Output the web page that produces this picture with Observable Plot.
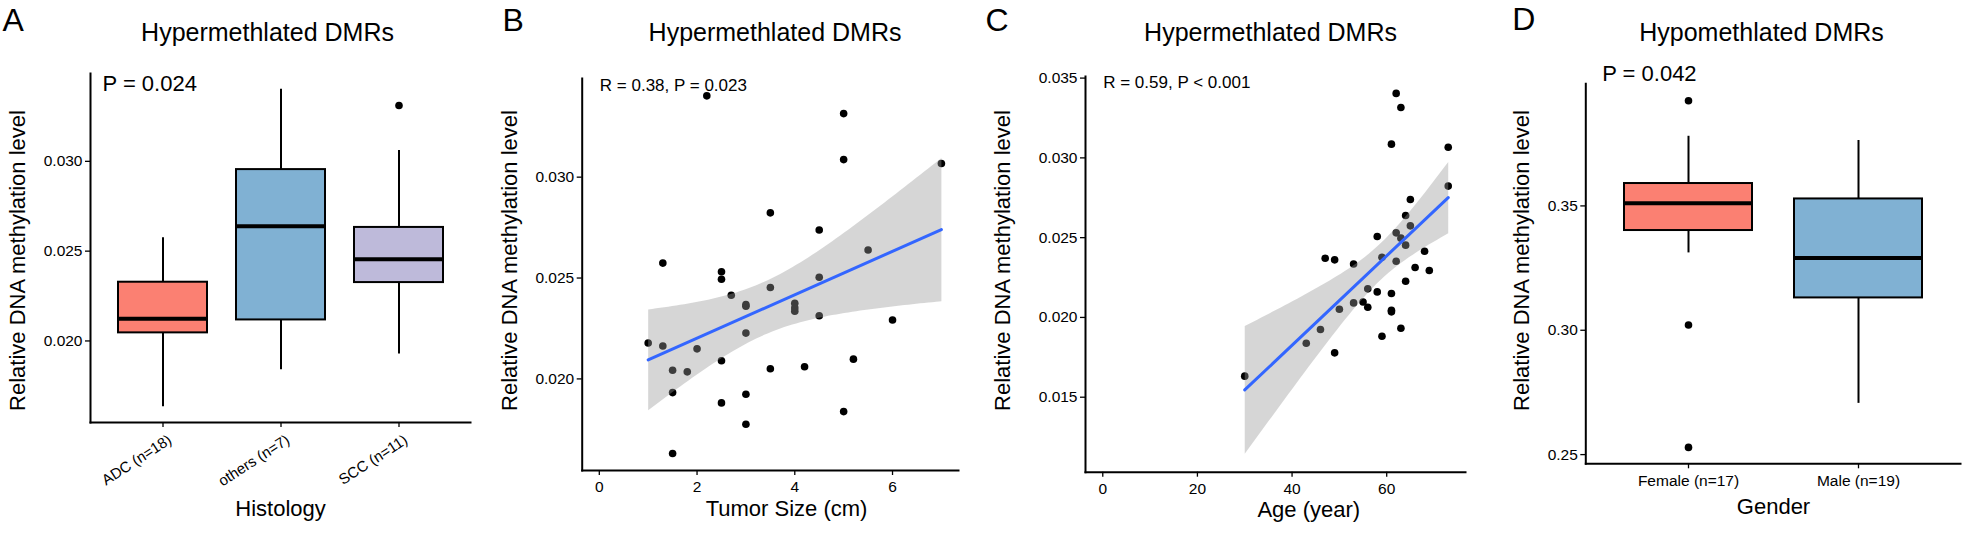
<!DOCTYPE html>
<html><head><meta charset="utf-8">
<script src="https://cdn.jsdelivr.net/npm/d3@7"></script>
<script src="https://cdn.jsdelivr.net/npm/@observablehq/plot@0.6"></script>
<style>
html,body{margin:0;padding:0;background:#fff;}
#wrap{position:relative;width:1965px;height:536px;overflow:hidden;}
#wrap svg{position:absolute;top:0;}
</style></head><body><div id="wrap"></div>
<script>
// ---------- Panel A: Histology boxplot ----------
const histCats = ["ADC (n=18)", "others (n=7)", "SCC (n=11)"];
const histLower = [0.01634, 0.01840, 0.01928];
const histQ1 = [0.02045, 0.02117, 0.02325];
const histMedian = [0.02123, 0.02639, 0.02455];
const histQ3 = [0.02327, 0.02954, 0.02632];
const histUpper = [0.02574, 0.03401, 0.03060];
const histColors = ["#FB8072", "#80B1D3", "#BEBADA"];
const histOutCat = ["SCC (n=11)"];
const histOutVal = [0.03311];
const yTicksHyper = [0.020, 0.025, 0.030];

// ---------- Panel B: Tumor size scatter ----------
const sizeX = [2.2, 5, 5, 7, 3.5, 4.5, 5.5, 1.3, 2.5, 2.5, 4.5, 3.5, 2.7, 3, 4, 4, 4.5, 6, 3, 1, 1.3, 2, 2.5, 5.2, 1.5, 1.8, 3.5, 4.2, 1.5, 3, 2.5, 5, 3, 1.5, 3, 4];
const sizeY = [0.03403, 0.03315, 0.03087, 0.03068, 0.02823, 0.02738, 0.02639, 0.02574, 0.02531, 0.02494, 0.02504, 0.02453, 0.02415, 0.02360, 0.02375, 0.02335, 0.02313, 0.02292, 0.02227, 0.02178, 0.02163, 0.02149, 0.02090, 0.02098, 0.02043, 0.02035, 0.02050, 0.02060, 0.01932, 0.01924, 0.01881, 0.01838, 0.01775, 0.01630, 0.02368, 0.02352];
const sizeTicks = [0, 2, 4, 6];

// ---------- Panel C: Age scatter ----------
const ageX = [62, 63, 61, 73, 73, 65, 64, 65, 62, 58, 63, 64, 68, 47, 49, 59, 62, 53, 66, 69, 64, 56, 58, 61, 53, 55, 56, 50, 61, 61, 46, 63, 43, 59, 49, 30];
const ageY = [0.03404, 0.03316, 0.03086, 0.03067, 0.02823, 0.02739, 0.02639, 0.02574, 0.02530, 0.02507, 0.02497, 0.02453, 0.02415, 0.02371, 0.02361, 0.02377, 0.02352, 0.02335, 0.02313, 0.02294, 0.02227, 0.02179, 0.02160, 0.02150, 0.02091, 0.02097, 0.02064, 0.02051, 0.02045, 0.02035, 0.01924, 0.01932, 0.01838, 0.01882, 0.01778, 0.01632];
const ageTicks = [0, 20, 40, 60];
const yTicksAge = [0.015, 0.020, 0.025, 0.030, 0.035];

// ---------- Panel D: Gender boxplot ----------
const genderCats = ["Female (n=17)", "Male (n=19)"];
const genderLower = [0.3311, 0.2706];
const genderQ1 = [0.3401, 0.3130];
const genderMedian = [0.3511, 0.3291];
const genderQ3 = [0.3590, 0.3528];
const genderUpper = [0.3780, 0.3763];
const genderColors = ["#FB8072", "#80B1D3"];
const genderOutCat = ["Female (n=17)", "Female (n=17)", "Female (n=17)"];
const genderOutVal = [0.3923, 0.3021, 0.2529];
const yTicksGender = [0.25, 0.30, 0.35];

const FONT = '"Liberation Sans", Arial, Helvetica, sans-serif';
const wrap = document.getElementById("wrap");

function place(svg, left) { svg.style.left = left + "px"; wrap.appendChild(svg); }

function label(t, o) {
  return Plot.text([t], Object.assign({text: d => d, frameAnchor: "top-left", fill: "black"}, o));
}
function common(o) {
  return [
    label(o.letter, {dx: o.letterPos[0], dy: o.letterPos[1], fontSize: 32, textAnchor: "start", lineAnchor: "bottom"}),
    label(o.title, {dx: o.titlePos[0], dy: o.titlePos[1], fontSize: 25, textAnchor: "middle", lineAnchor: "bottom"}),
    label(o.note, {dx: o.notePos[0], dy: o.notePos[1], fontSize: o.noteSize, textAnchor: "start", lineAnchor: "bottom"}),
    label("Relative DNA methylation level", {dx: o.ylabPos[0], dy: o.ylabPos[1], fontSize: 22, rotate: -90, textAnchor: "middle", lineAnchor: "middle"}),
    label(o.xlab, {dx: o.xlabPos[0], dy: o.xlabPos[1], fontSize: 22, textAnchor: "middle", lineAnchor: "bottom"}),
    Plot.frame({anchor: "left", stroke: "black", strokeWidth: 2}),
    Plot.frame({anchor: "bottom", stroke: "black", strokeWidth: 2})
  ];
}
const style = {fontFamily: FONT, background: "transparent", color: "black", overflow: "visible"};

function boxMarks(cats, lower, q1, med, q3, upper, colors, outCat, outVal) {
  const t = cats.map((c, i) => ({cat: c, lower: lower[i], q1: q1[i], med: med[i], q3: q3[i], upper: upper[i], color: colors[i]}));
  const o = outCat.map((c, i) => ({cat: c, v: outVal[i]}));
  return [
    Plot.ruleX(t, {x: "cat", y1: "lower", y2: "q1", stroke: "black", strokeWidth: 2}),
    Plot.ruleX(t, {x: "cat", y1: "q3", y2: "upper", stroke: "black", strokeWidth: 2}),
    Plot.barY(t, {x: "cat", y1: "q1", y2: "q3", fill: "color", stroke: "black", strokeWidth: 2}),
    Plot.tickY(t, {x: "cat", y: "med", stroke: "black", strokeWidth: 4}),
    Plot.dot(o, {x: "cat", y: "v", r: 3.8, fill: "black", stroke: "none"})
  ];
}

// Panel A
place(Plot.plot({
  width: 480, height: 536, marginLeft: 90, marginRight: 10, marginTop: 73, marginBottom: 114,
  style,
  x: {type: "band", domain: histCats, paddingInner: 0.25, paddingOuter: 0.225, label: null},
  y: {domain: [0.01546, 0.03489], label: null},
  color: {type: "identity"},
  marks: [
    ...boxMarks(histCats, histLower, histQ1, histMedian, histQ3, histUpper, histColors, histOutCat, histOutVal),
    Plot.axisY({ticks: yTicksHyper, tickFormat: d3.format(".3f"), tickSize: 5, tickPadding: 3, fontSize: 15.5, strokeWidth: 1.3, label: null}),
    Plot.axisX({tickSize: 5, tickFormat: () => "", strokeWidth: 1.3, label: null}),
    Plot.text(histCats, {x: d => d, text: d => d, frameAnchor: "bottom", rotate: -33, textAnchor: "end", lineAnchor: "top", dx: 4, dy: 11, fontSize: 15, fill: "black"}),
    ...common({letter: "A", letterPos: [-88, -43], title: "Hypermethlated DMRs", titlePos: [177, -33],
      note: "P = 0.024", notePos: [12, 17], noteSize: 22, ylabPos: [-73, 187], xlab: "Histology", xlabPos: [190, 442]})
  ]
}), 0);

// Panel B
const dataB = sizeX.map((x, i) => ({x, y: sizeY[i]}));
place(Plot.plot({
  width: 480, height: 536, marginLeft: 91.7, marginRight: 12, marginTop: 78, marginBottom: 66,
  style,
  x: {domain: [-0.35, 7.35], label: null},
  y: {domain: [0.01546, 0.03489], label: null},
  marks: [
    Plot.dot(dataB, {x: "x", y: "y", r: 3.8, fill: "black", stroke: "none"}),
    Plot.linearRegressionY(dataB, {x: "x", y: "y", stroke: "#3366FF", strokeWidth: 3, fill: "#999999", fillOpacity: 0.4}),
    Plot.axisY({ticks: yTicksHyper, tickFormat: d3.format(".3f"), tickSize: 5, tickPadding: 3, fontSize: 15.5, strokeWidth: 1.3, label: null}),
    Plot.axisX({ticks: sizeTicks, tickSize: 5, tickPadding: 5.5, fontSize: 15.5, strokeWidth: 1.3, label: null}),
    ...common({letter: "B", letterPos: [-79.7, -48], title: "Hypermethlated DMRs", titlePos: [192.8, -38],
      note: "R = 0.38, P = 0.023", notePos: [17.6, 12], noteSize: 17, ylabPos: [-72.7, 182], xlab: "Tumor Size (cm)", xlabPos: [204.3, 437]})
  ]
}), 490);

// Panel C
const dataC = ageX.map((x, i) => ({x, y: ageY[i]}));
place(Plot.plot({
  width: 490, height: 536, marginLeft: 105, marginRight: 5, marginTop: 76, marginBottom: 64.3,
  style,
  x: {domain: [-3.65, 76.65], label: null},
  y: {domain: [0.0103, 0.0351], label: null},
  marks: [
    Plot.dot(dataC, {x: "x", y: "y", r: 3.8, fill: "black", stroke: "none"}),
    Plot.linearRegressionY(dataC, {x: "x", y: "y", stroke: "#3366FF", strokeWidth: 3, fill: "#999999", fillOpacity: 0.4}),
    Plot.axisY({ticks: yTicksAge, tickFormat: d3.format(".3f"), tickSize: 5, tickPadding: 3, fontSize: 15.5, strokeWidth: 1.3, label: null}),
    Plot.axisX({ticks: ageTicks, tickSize: 5, tickPadding: 5.5, fontSize: 15.5, strokeWidth: 1.3, label: null}),
    ...common({letter: "C", letterPos: [-100, -46], title: "Hypermethlated DMRs", titlePos: [185, -36],
      note: "R = 0.59, P < 0.001", notePos: [17.7, 11.3], noteSize: 17, ylabPos: [-82.5, 184], xlab: "Age (year)", xlabPos: [223.3, 440]})
  ]
}), 980);

// Panel D
place(Plot.plot({
  width: 485, height: 536, marginLeft: 105.3, marginRight: 5, marginTop: 83.3, marginBottom: 72.7,
  style,
  x: {type: "band", domain: genderCats, paddingInner: 0.25, paddingOuter: 0.225, label: null},
  y: {domain: [0.2463, 0.3991], label: null},
  color: {type: "identity"},
  marks: [
    ...boxMarks(genderCats, genderLower, genderQ1, genderMedian, genderQ3, genderUpper, genderColors, genderOutCat, genderOutVal),
    Plot.axisY({ticks: yTicksGender, tickFormat: d3.format(".2f"), tickSize: 5, tickPadding: 3, fontSize: 15.5, strokeWidth: 1.3, label: null}),
    Plot.axisX({tickSize: 5, tickPadding: 6, fontSize: 15.5, strokeWidth: 1.3, label: null}),
    ...common({letter: "D", letterPos: [-73.6, -54.3], title: "Hypomethlated DMRs", titlePos: [175.7, -43.3],
      note: "P = 0.042", notePos: [16.4, -3.3], noteSize: 22, ylabPos: [-64.3, 176.7], xlab: "Gender", xlabPos: [187.7, 430]})
  ]
}), 1480);
</script></body></html>
